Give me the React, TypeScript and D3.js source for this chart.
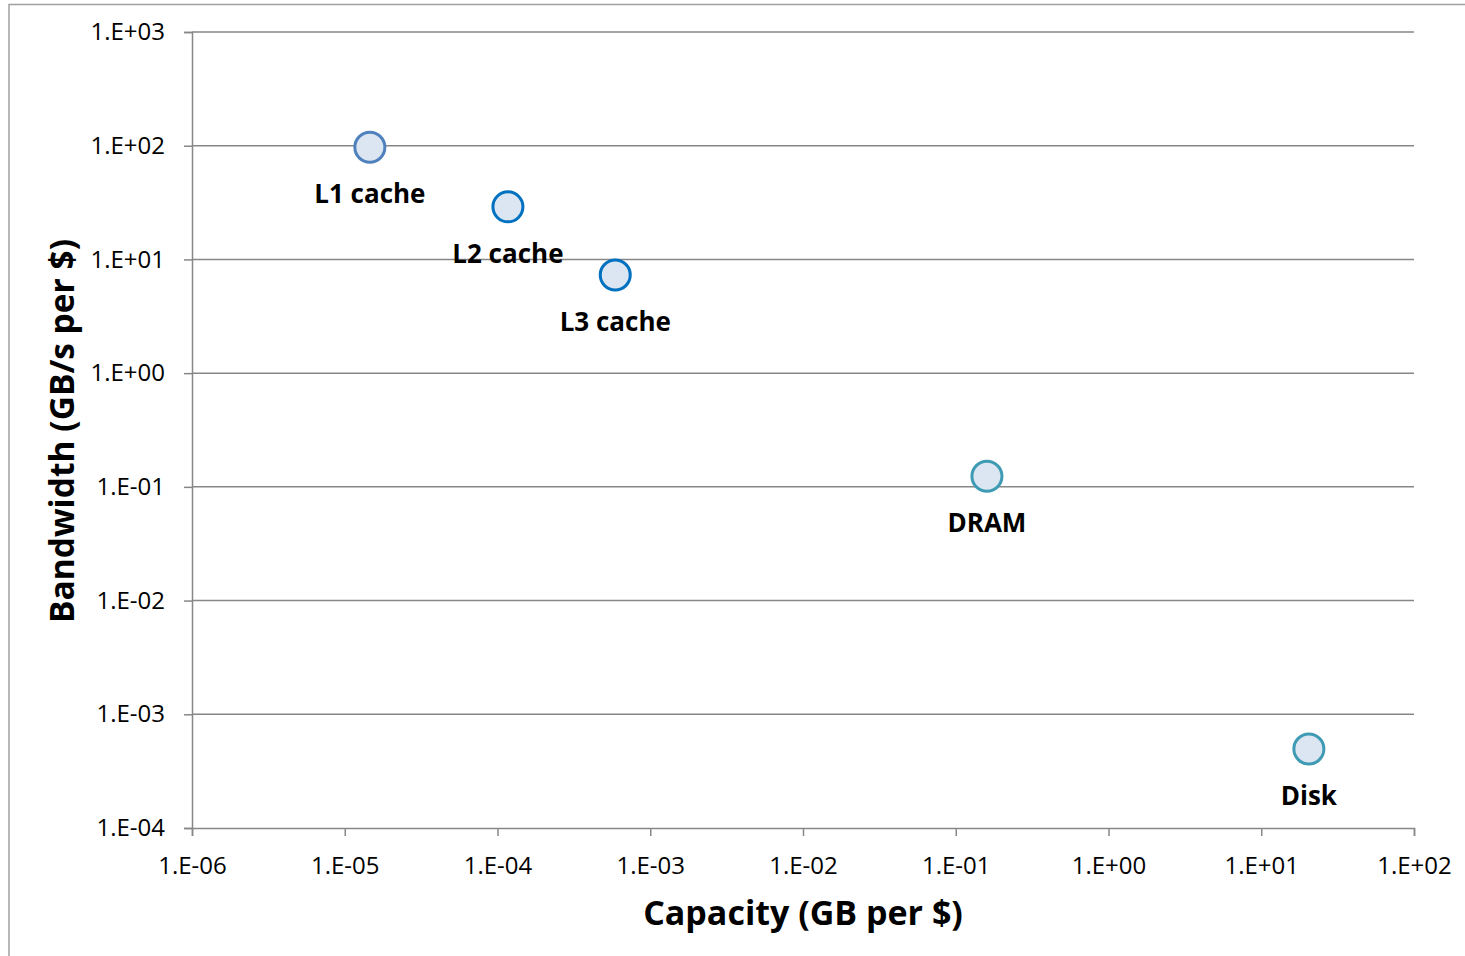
import React, { useRef, useEffect } from 'react';
import * as d3 from 'd3';

// memory hierarchy points
const names = ['L1 cache', 'L2 cache', 'L3 cache', 'DRAM', 'Disk'];
const capacity = [1.46e-5, 1.17e-4, 5.9e-4, 0.16, 20.5];
const bandwidth = [97, 29, 7.3, 0.124, 4.95e-4];
const strokes = ['#4F81BD', '#0070C0', '#0070C0', '#3E9BB3', '#3E9BB3'];

const xTicks = [1e-6, 1e-5, 1e-4, 1e-3, 1e-2, 1e-1, 1e0, 1e1, 1e2];
const yTicks = [1e-4, 1e-3, 1e-2, 1e-1, 1e0, 1e1, 1e2, 1e3];

const fmt = (v: number) => {
  const e = Math.round(Math.log10(v));
  const s = Math.abs(e) < 10 ? '0' + Math.abs(e) : '' + Math.abs(e);
  return '1.E' + (e < 0 ? '-' : '+') + s;
};

const App = () => {
  const svgRef = useRef<SVGSVGElement>(null);

  useEffect(() => {
    const svg = d3.select(svgRef.current);
    svg.selectAll('*').remove();

    const font = 'Open Sans, Calibri, sans-serif';
    const grey = '#878787';

    // outer frame
    svg.append('path')
      .attr('d', 'M9,956 V4.5 H1465')
      .attr('fill', 'none')
      .attr('stroke', '#a0a0a0')
      .attr('stroke-width', 1.5);

    const x = d3.scaleLog().domain([1e-6, 1e2]).range([192, 1414]);
    const y = d3.scaleLog().domain([1e-4, 1e3]).range([828, 32]);

    // horizontal gridlines
    svg.append('g')
      .selectAll('line')
      .data(yTicks.slice(1))
      .enter()
      .append('line')
      .attr('x1', 192)
      .attr('x2', 1414)
      .attr('y1', d => y(d))
      .attr('y2', d => y(d))
      .attr('stroke', grey)
      .attr('stroke-width', 1.5);

    // y axis
    const yAxis = d3.axisLeft(y).tickValues(yTicks).tickFormat(d => fmt(+d)).tickSize(8).tickPadding(19);
    const gy = svg.append('g').attr('transform', 'translate(192,0)').call(yAxis);
    gy.select('.domain').attr('stroke', grey).attr('stroke-width', 1.5);
    gy.selectAll('.tick line').attr('stroke', grey).attr('stroke-width', 1.5);
    gy.selectAll('.tick text')
      .attr('font-family', font)
      .attr('font-size', 24)
      .attr('fill', '#000');

    // x axis
    const xAxis = d3.axisBottom(x).tickValues(xTicks).tickFormat(d => fmt(+d)).tickSize(8).tickPadding(21);
    const gx = svg.append('g').attr('transform', 'translate(0,828)').call(xAxis);
    gx.select('.domain').attr('stroke', grey).attr('stroke-width', 1.5);
    gx.selectAll('.tick line').attr('stroke', grey).attr('stroke-width', 1.5);
    gx.selectAll('.tick text')
      .attr('font-family', font)
      .attr('font-size', 24)
      .attr('fill', '#000');

    // points
    svg.selectAll('circle.pt')
      .data(names)
      .enter()
      .append('circle')
      .attr('class', 'pt')
      .attr('cx', (d, i) => x(capacity[i]))
      .attr('cy', (d, i) => y(bandwidth[i]))
      .attr('r', 15)
      .attr('fill', '#DCE6F2')
      .attr('stroke', (d, i) => strokes[i])
      .attr('stroke-width', 3);

    // point labels
    svg.selectAll('text.lbl')
      .data(names)
      .enter()
      .append('text')
      .attr('class', 'lbl')
      .attr('x', (d, i) => x(capacity[i]))
      .attr('y', (d, i) => y(bandwidth[i]) + 56)
      .attr('text-anchor', 'middle')
      .attr('font-family', font)
      .attr('font-weight', 'bold')
      .attr('font-size', 26)
      .text(d => d);

    // axis titles
    svg.append('text')
      .attr('x', 803)
      .attr('y', 925)
      .attr('text-anchor', 'middle')
      .attr('font-family', font)
      .attr('font-weight', 'bold')
      .attr('font-size', 34)
      .text('Capacity (GB per $)');

    svg.append('text')
      .attr('transform', 'translate(74,431) rotate(-90)')
      .attr('text-anchor', 'middle')
      .attr('font-family', font)
      .attr('font-weight', 'bold')
      .attr('font-size', 33.5)
      .text('Bandwidth (GB/s per $)');
  }, []);

  return (
    <svg ref={svgRef} width="1465" height="956"
      style={{ position: 'absolute', left: 0, top: 0, background: '#fff' }}></svg>
  );
};

export default App;
